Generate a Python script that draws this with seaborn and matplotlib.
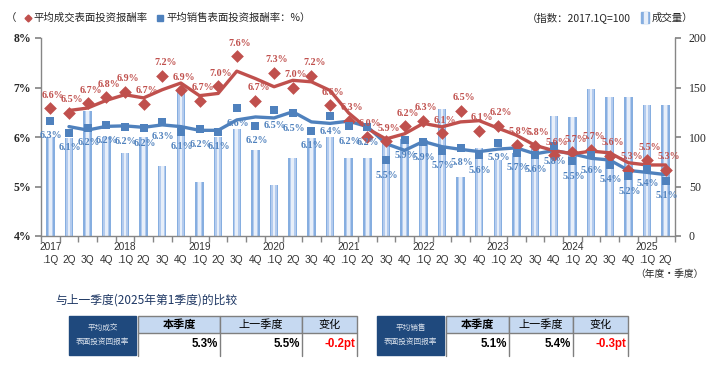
import numpy as np
import pandas as pd
import matplotlib
matplotlib.use('Agg')
import matplotlib.pyplot as plt
import seaborn as sns
from matplotlib.patches import Rectangle

# quarters 2017.1Q - 2025.2Q
tick_year = ['2017', '', '', '', '2018', '', '', '', '2019', '', '', '', '2020', '', '', '',
             '2021', '', '', '', '2022', '', '', '', '2023', '', '', '', '2024', '', '', '',
             '2025', '']
tick_qtr = ['.1Q', '2Q', '3Q', '4Q'] * 8 + ['.1Q', '2Q']

# average deal (transaction) gross yield, %
deal_yield = [6.58, 6.49, 6.68, 6.80, 6.91, 6.67, 7.24, 6.94, 6.73, 7.03, 7.63, 6.73,
              7.30, 6.99, 7.24, 6.64, 6.33, 6.01, 5.91, 6.22, 6.33, 6.08, 6.53, 6.13,
              6.23, 5.84, 5.82, 5.63, 5.69, 5.74, 5.62, 5.34, 5.53, 5.34]
# average asking (sale) gross yield, %
sale_yield = [6.33, 6.09, 6.19, 6.24, 6.21, 6.18, 6.31, 6.11, 6.16, 6.11, 6.58, 6.23,
              6.54, 6.48, 6.13, 6.42, 6.22, 6.20, 5.53, 5.93, 5.89, 5.72, 5.78, 5.63,
              5.88, 5.68, 5.64, 5.81, 5.51, 5.63, 5.44, 5.21, 5.36, 5.12]
# deal volume index (2017.1Q = 100)
volume = [100, 98.5, 126, 99.5, 84, 100, 70.7, 147.5, 54.5, 100, 108.5, 87,
          51.7, 79, 99.3, 100, 78.5, 78.5, 94, 98, 96.5, 128, 60, 88.5,
          77, 83.5, 88, 121, 120, 148, 140, 140, 132.3, 132.3]

pct_ticks = [4, 5, 6, 7, 8]
vol_ticks = [0, 50, 100, 150, 200]
table_cols = ['本季度', '上一季度', '变化']

RED = '#c0504d'
BLUE = '#4f81bd'
GRAY = '#868686'

sns.set_theme(style='white')
plt.rcParams['font.family'] = ['Noto Sans CJK SC', 'DejaVu Sans']

df = pd.DataFrame({'pos': np.arange(len(volume)), 'deal': deal_yield,
                   'sale': sale_yield, 'vol': volume})
df['deal_ma'] = df['deal'].rolling(2).mean()
df['sale_ma'] = df['sale'].rolling(2).mean()

fig = plt.figure(figsize=(7.13, 3.71), dpi=100)
ov = fig.add_axes([0, 0, 1, 1])
ov.set_xlim(0, 713)
ov.set_ylim(371, 0)
ov.axis('off')

ax = fig.add_axes([41 / 713, 1 - 236 / 371, (675 - 41) / 713, (236 - 38) / 371])
ax2 = ax.twinx()
ax.set_zorder(ax2.get_zorder() + 1)
ax.patch.set_visible(False)

# volume bars, layered for the striped look
sns.barplot(data=df, x='pos', y='vol', ax=ax2, color='#86aee0', width=0.46, saturation=1, linewidth=0)
sns.barplot(data=df, x='pos', y='vol', ax=ax2, color='#b3cbee', width=0.30, saturation=1, linewidth=0)
sns.barplot(data=df, x='pos', y='vol', ax=ax2, color='#e8eff9', width=0.14, saturation=1, linewidth=0)

# moving average lines + points
sns.lineplot(data=df, x='pos', y='sale_ma', ax=ax, color=BLUE, linewidth=2.4, zorder=2)
sns.lineplot(data=df, x='pos', y='deal_ma', ax=ax, color=RED, linewidth=2.4, zorder=2)
sns.scatterplot(data=df, x='pos', y='deal', ax=ax, marker='D', s=42, color=RED, linewidth=0, zorder=3)
sns.scatterplot(data=df, x='pos', y='sale', ax=ax, marker='s', s=36, color=BLUE, linewidth=0, zorder=4)

for p, v in zip(df['pos'], df['deal']):
    ax.annotate(f'{v:.1f}%', (p, v), xytext=(3, 13), textcoords='offset pixels',
                ha='center', va='center', color=RED, fontsize=7.2, fontweight='bold',
                family='Liberation Serif', zorder=5)
for p, v in zip(df['pos'], df['sale']):
    ax.annotate(f'{v:.1f}%', (p, v), xytext=(1, -15), textcoords='offset pixels',
                ha='center', va='center', color=BLUE, fontsize=7.2, fontweight='bold',
                family='Liberation Serif', zorder=5)

# axes
ax.set_ylim(4, 8)
ax2.set_ylim(0, 200)
ax.set_yticks(pct_ticks)
ax.set_yticklabels([f'{t}%' for t in pct_ticks], family='Liberation Serif',
                   fontweight='bold', fontsize=8.5, color='#262626')
ax2.set_yticks(vol_ticks)
ax2.set_yticklabels([str(t) for t in vol_ticks], family='Liberation Serif',
                    fontsize=8.5, color='#262626')
ax.set_xticks(df['pos'])
ax.set_xticklabels([f'{y}\n{q}' for y, q in zip(tick_year, tick_qtr)],
                   family='Liberation Sans', fontsize=7.3, color='#333333', linespacing=1.45)
ax.set_xticks(np.arange(-0.5, len(volume), 1), minor=True)
ax.set_xlim(-0.5, len(volume) - 0.5)
ax.tick_params(axis='x', which='major', length=0, pad=4)
ax.tick_params(axis='x', which='minor', bottom=True, length=4, color=GRAY, direction='out')
ax.tick_params(axis='y', left=True, length=4, color=GRAY, direction='out', pad=3)
ax2.tick_params(axis='y', right=True, length=4, color=GRAY, direction='out', pad=6)
for a in (ax, ax2):
    a.set_xlabel('')
    a.set_ylabel('')
    a.grid(False)
    for s in a.spines.values():
        s.set_visible(False)
ax.spines['left'].set_visible(True)
ax.spines['bottom'].set_visible(True)
ax2.spines['right'].set_visible(True)
for s in (ax.spines['left'], ax.spines['bottom'], ax2.spines['right']):
    s.set_color(GRAY)
    s.set_linewidth(1)

# legend row
ov.text(6, 18, '（', va='center', ha='left', fontsize=7.5, color='#262626')
ov.plot([28], [18], marker='D', ms=3.5, color=RED, lw=0)
ov.text(33, 18, '平均成交表面投资报酬率', va='center', ha='left', fontsize=7.5, color='#262626')
ov.plot([160], [18], marker='s', ms=4, color=BLUE, lw=0)
ov.text(166, 18, '平均销售表面投资报酬率：%）', va='center', ha='left', fontsize=7.5, color='#262626')
ov.text(527, 18, '（指数：2017.1Q=100', va='center', ha='left', fontsize=7.5, color='#262626')
ov.add_patch(Rectangle((641, 12), 8, 11, color='#86aee0'))
ov.add_patch(Rectangle((643.5, 12), 3, 11, color='#e8eff9'))
ov.text(652, 18, '成交量）', va='center', ha='left', fontsize=7.5, color='#262626')
ov.text(704, 274, '（年度·季度）', va='center', ha='right', fontsize=7, color='#262626')

# comparison tables
ov.text(55, 300, '与上一季度(2025年第1季度)的比较', va='center', ha='left',
        fontsize=8.5, color='#1f3864')


def draw_table(nx0, nx1, cols, name1, name2, series):
    cur = round(series[-1], 1)
    prev = round(series[-2], 1)
    vals = [f'{cur:.1f}%', f'{prev:.1f}%', f'{cur - prev:+.1f}pt'.replace('+', '')]
    ov.add_patch(Rectangle((nx0, 316), nx1 - nx0, 39, color='#1f497d'))
    ov.text((nx0 + nx1) / 2, 328, name1, ha='center', va='center', fontsize=5.5, color='#dde4ee')
    ov.text((nx0 + nx1) / 2, 342, name2, ha='center', va='center', fontsize=5.5, color='#dde4ee')
    for i, c in enumerate(table_cols):
        x0, x1 = cols[i], cols[i + 1]
        ov.add_patch(Rectangle((x0, 316), x1 - x0, 17, facecolor='#c6d9f1',
                               edgecolor='#7f7f7f', lw=1))
        ov.text((x0 + x1) / 2, 324.5, c, ha='center', va='center', fontsize=8,
                fontweight='bold' if i == 0 else 'normal', color='black')
        ov.text(x1 - 2, 344, vals[i], ha='right', va='center', fontsize=8.3,
                fontweight='bold', family='Liberation Sans',
                color='#ff0000' if i == 2 else 'black')
    for x in cols:
        ov.plot([x, x], [333, 356], color='#7f7f7f', lw=1)


draw_table(69, 136, [138, 220, 302, 357], '平均成交', '表面投资回报率', deal_yield)
draw_table(377, 444, [446, 509, 573, 628], '平均销售', '表面投资回报率', sale_yield)

fig.savefig('out.png', dpi=100)
